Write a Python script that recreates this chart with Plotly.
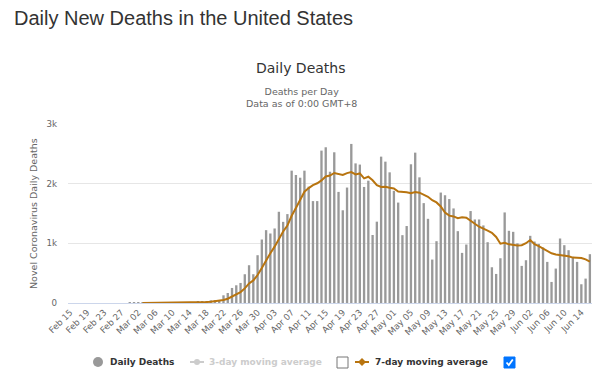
import pandas as pd
import plotly.graph_objects as go

# ---------------- data ----------------
dates = pd.date_range("2020-02-15", "2020-06-16", freq="D")
categories = [d.strftime("%b %d") for d in dates]

daily_deaths = [None] * 11 + [
    0, 0, 0, 1, 1, 4, 1, 3, 1, 2, 3, 2, 4, 5, 7, 8, 10, 9, 12, 18, 23,
    34, 45, 48, 50, 129, 168, 252, 297, 336, 482,
    633, 482, 801, 1064, 1221, 1165, 1249, 1529, 1360, 1490,
    2218, 2145, 2100, 2218, 1950, 1708, 1708, 2554, 2610, 2200,
    2526, 1862, 1554, 1935, 2666, 2340, 2320, 1945, 2050, 1140,
    1363, 2453, 2369, 2190, 1880, 1683, 1137, 1290, 2325, 2520,
    2106, 1674, 1411, 728, 1036, 1851, 1806, 1742, 1585, 1204,
    840, 980, 1541, 1400, 1400, 1300, 1019, 599, 487, 750,
    1518, 1210, 1193, 1000, 622, 717, 1126, 1030, 990, 930,
    689, 353, 577, 1081, 969, 885, 773, 689, 314, 409,
    818,
]
assert len(daily_deaths) == len(categories)

moving_avg_7 = pd.Series(daily_deaths, dtype="float").rolling(7).mean().round(1).tolist()

tick_labels = categories[::4]
y_tick_values = [0, 1000, 2000, 3000]
y_tick_labels = ["0", "1k", "2k", "3k"]

# ---------------- geometry helpers (pixel -> paper) ----------------
W, H = 600, 384
L, R, T, B = 68, 8, 124, 81
PW, PH = W - L - R, H - T - B


def px(x):
    return (x - L) / PW


def py(y):
    return (H - B - y) / PH


BAR_COLOR = "#999999"
LINE_COLOR = "#b8740f"
HC_FONT = "DejaVu Sans"

fig = go.Figure()
fig.add_trace(go.Bar(x=categories, y=daily_deaths, marker_color=BAR_COLOR,
                     marker_line_width=0, name="Daily Deaths", hoverinfo="skip"))
fig.add_trace(go.Scatter(x=categories, y=moving_avg_7, mode="lines",
                         line=dict(color=LINE_COLOR, width=2),
                         name="7-day moving average", hoverinfo="skip"))

annotations = [
    dict(text="Daily New Deaths in the United States", x=px(12), y=py(18),
         xanchor="left", yanchor="middle",
         font=dict(family="Liberation Sans, Arial", size=20, color="#333333")),
    dict(text="Daily Deaths", x=px(301), y=py(68), xanchor="center", yanchor="middle",
         font=dict(family=HC_FONT, size=14, color="#333333")),
    dict(text="Deaths per Day<br>Data as of 0:00 GMT+8", x=px(301), y=py(97),
         xanchor="center", yanchor="middle",
         font=dict(family=HC_FONT, size=9.5, color="#666666")),
    dict(text="Novel Coronavirus Daily Deaths", x=px(33), y=py(214), textangle=-90,
         xanchor="center", yanchor="middle",
         font=dict(family=HC_FONT, size=9.5, color="#666666")),
    dict(text="<b>Daily Deaths</b>", x=px(108), y=py(362), xanchor="left", yanchor="middle",
         font=dict(family=HC_FONT, size=9, color="#333333")),
    dict(text="<b>3-day moving average</b>", x=px(207), y=py(362), xanchor="left",
         yanchor="middle", font=dict(family=HC_FONT, size=9, color="#cccccc")),
    dict(text="<b>7-day moving average</b>", x=px(373), y=py(362), xanchor="left",
         yanchor="middle", font=dict(family=HC_FONT, size=9, color="#333333")),
]
for a in annotations:
    a.update(xref="paper", yref="paper", showarrow=False)

shapes = [
    # Daily deaths legend circle
    dict(type="circle", x0=px(93), x1=px(103), y0=py(367), y1=py(357),
         fillcolor=BAR_COLOR, line=dict(width=0)),
    # 3-day legend symbol (hidden series)
    dict(type="line", x0=px(190), x1=px(204), y0=py(362), y1=py(362),
         line=dict(color="#cccccc", width=2)),
    dict(type="circle", x0=px(194), x1=px(200), y0=py(365), y1=py(359),
         fillcolor="#cccccc", line=dict(width=0)),
    # unchecked checkbox
    dict(type="rect", x0=px(337), x1=px(348), y0=py(368), y1=py(357),
         fillcolor="white", line=dict(color="#767676", width=1)),
    # 7-day legend symbol
    dict(type="line", x0=px(355), x1=px(369), y0=py(362), y1=py(362),
         line=dict(color=LINE_COLOR, width=2)),
    dict(type="path",
         path=f"M {px(362)} {py(358)} L {px(366)} {py(362)} L {px(362)} {py(366)} L {px(358)} {py(362)} Z",
         fillcolor=LINE_COLOR, line=dict(width=0)),
    # checked checkbox
    dict(type="rect", x0=px(504), x1=px(515), y0=py(368), y1=py(357),
         fillcolor="#0075ff", line=dict(color="#0075ff", width=1)),
    dict(type="path",
         path=f"M {px(506.5)} {py(362.5)} L {px(508.8)} {py(365)} L {px(512.8)} {py(359.5)}",
         line=dict(color="white", width=1.8)),
]
for s in shapes:
    s.update(xref="paper", yref="paper", layer="above")

fig.update_layout(
    width=W, height=H,
    margin=dict(l=L, r=R, t=T, b=B, pad=0),
    paper_bgcolor="white", plot_bgcolor="white",
    showlegend=False, bargap=0.45,
    annotations=annotations, shapes=shapes,
    xaxis=dict(type="category", categoryorder="array", categoryarray=categories,
               tickmode="array", tickvals=tick_labels, ticktext=tick_labels,
               tickangle=-45, tickfont=dict(family=HC_FONT, size=8.7, color="#666666"),
               showgrid=False, showline=True, linecolor="#ccd6eb", linewidth=1,
               ticks="", fixedrange=True),
    yaxis=dict(range=[0, 3000], tickmode="array", tickvals=y_tick_values,
               ticktext=y_tick_labels, ticklabelstandoff=10,
               tickfont=dict(family=HC_FONT, size=8.7, color="#666666"),
               showgrid=True, gridcolor="#e6e6e6", gridwidth=1, zeroline=False,
               showline=False, ticks="", fixedrange=True),
)

fig.write_html("out.html", config={"displayModeBar": False},
               post_script="document.body.style.margin='0px';")
